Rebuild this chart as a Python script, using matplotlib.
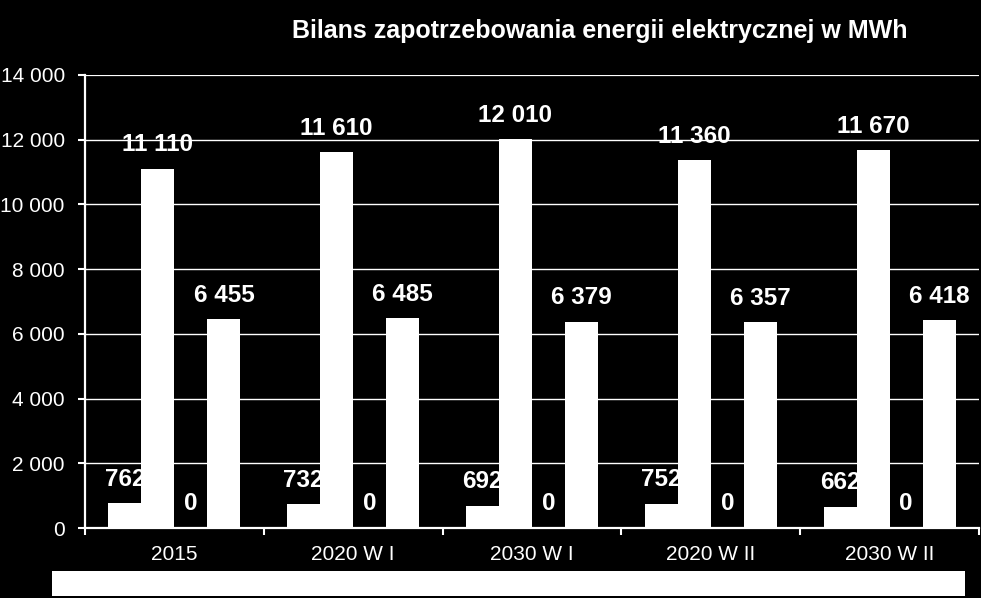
import matplotlib
matplotlib.use("Agg")
import matplotlib.pyplot as plt
from matplotlib.patches import Rectangle
import numpy as np

plt.rcParams['font.family'] = ['Liberation Sans', 'DejaVu Sans']

categories = ['2015', '2020 W I', '2030 W I', '2020 W II', '2030 W II']
series_a = [762, 732, 692, 752, 662]
series_b = [11110, 11610, 12010, 11360, 11670]
series_c = [0, 0, 0, 0, 0]
series_d = [6455, 6485, 6379, 6357, 6418]
yticks = [0, 2000, 4000, 6000, 8000, 10000, 12000, 14000]
title = 'Bilans zapotrzebowania energii elektrycznej w MWh'

def fmt(v):
    return f'{v:,.0f}'.replace(',', ' ')

W, H = 981, 598
fig = plt.figure(figsize=(W / 100, H / 100), dpi=100, facecolor='black')
ax = fig.add_axes([85 / W, 1 - 528 / H, (979 - 85) / W, (528 - 75) / H])
ax.set_facecolor('black')

x = np.arange(len(categories))
bw = 33 / 178.8
all_series = [series_a, series_b, series_c, series_d]
offsets = [-1.5, -0.5, 0.5, 1.5]

for s, off in zip(all_series, offsets):
    ax.bar(x + off * bw, s, width=bw, color='white', edgecolor='none', zorder=2)
for s, off in zip(all_series, offsets):
    for xi, v in zip(x, s):
        ax.annotate(fmt(v), (xi + off * bw, v), xytext=(0, 9.0), textcoords='offset points',
                    ha='center', va='bottom', color='white', fontsize=17.5,
                    fontweight='bold', zorder=1)

ax.set_xlim(-0.5, len(categories) - 0.5)
ax.set_ylim(0, 14000)
ax.set_yticks(yticks)
ax.set_yticklabels([fmt(t) for t in yticks])
for t in yticks[1:]:
    ax.axhline(t, color='white', lw=1.0 if t < 14000 else 1.6, zorder=0.5)

ax.set_xticks(x)
ax.set_xticklabels(categories)
ax.set_xticks(np.arange(len(categories) + 1) - 0.5, minor=True)
ax.tick_params(axis='x', which='major', length=0, pad=12.5, colors='white', labelsize=15)
ax.tick_params(axis='x', which='minor', length=5, width=1.5, color='white', direction='out')
ax.tick_params(axis='y', length=5, width=1.5, color='white', labelcolor='white',
               labelsize=15, pad=9.5, direction='out')

for side in ['top', 'right']:
    ax.spines[side].set_visible(False)
for side in ['left', 'bottom']:
    ax.spines[side].set_color('white')
    ax.spines[side].set_linewidth(1.6)
    ax.spines[side].set_zorder(3)

fig.text(600 / W, 1 - 38 / H, title, ha='center', va='baseline', color='white',
         fontsize=18, fontweight='bold')

fig.patches.append(Rectangle((52 / W, 1 - 596 / H), (965 - 52) / W, 25 / H,
                             transform=fig.transFigure, facecolor='white',
                             edgecolor='none'))

fig.savefig('out.png', dpi=100, facecolor='black')
